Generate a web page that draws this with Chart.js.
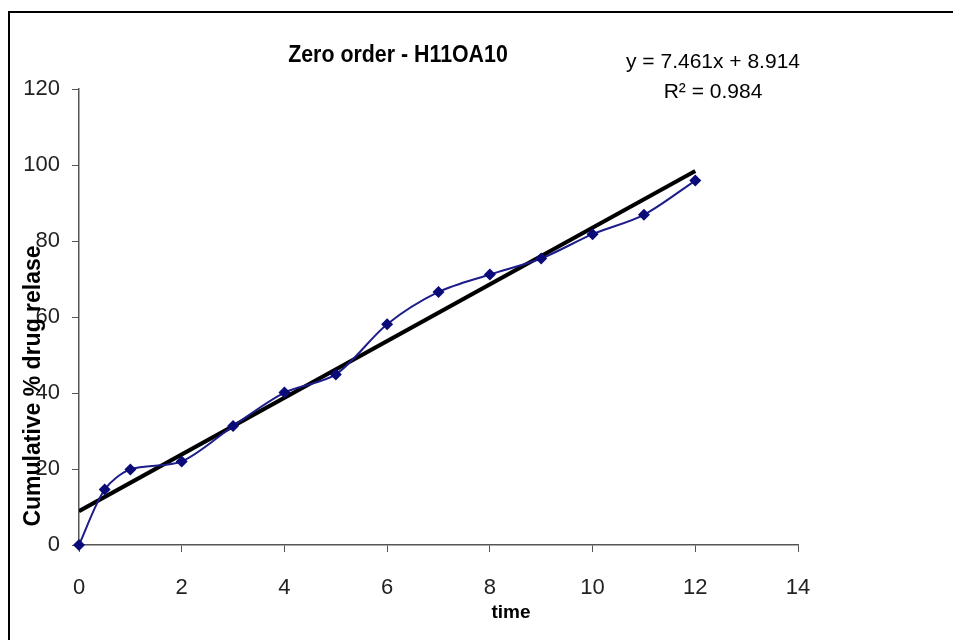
<!DOCTYPE html>
<html>
<head>
<meta charset="utf-8">
<script src="https://cdn.jsdelivr.net/npm/chart.js@4"></script>
<style>
  body { margin: 0; background: #fff; }
  .frame { position: absolute; left: 8px; top: 11px; width: 1000px; height: 700px; border: 2px solid #000; }
  #myChart { position: absolute; left: 0; top: 0; }
</style>
</head>
<body>
<div class="frame"></div>
<canvas id="myChart" width="953" height="640"></canvas>
<script>
// time (h) and cumulative % drug release
let times = [0, 0.5, 1, 2, 3, 4, 5, 6, 7, 8, 9, 10, 11, 12];
let release = [0, 14.6, 19.9, 22.0, 31.3, 40.1, 44.9, 58.1, 66.6, 71.2, 75.4, 81.8, 86.9, 95.9];
// linear trendline endpoints (y = 7.461x + 8.914)
let trendX = [0, 12];
let trendY = [8.914, 98.446];
let xTicks = [0, 2, 4, 6, 8, 10, 12, 14];
let yTicks = [0, 20, 40, 60, 80, 100, 120];

let font = "'Liberation Sans', Arial, sans-serif";

let textPlugin = {
  id: "texts",
  afterDraw(chart) {
    let c = chart.ctx;
    c.save();
    c.fillStyle = "#000";
    c.textAlign = "center";
    c.textBaseline = "alphabetic";
    // title is a condensed bold face in the original
    c.save();
    c.translate(398, 62);
    c.scale(0.89, 1);
    c.font = "bold 24px " + font;
    c.fillText("Zero order - H11OA10", 0, 0);
    c.restore();
    c.font = "21px " + font;
    c.fillText("y = 7.461x + 8.914", 713, 68);
    c.fillText("R² = 0.984", 713, 98);
    c.font = "bold 19px " + font;
    c.fillText("time", 511, 618);
    c.translate(40, 386);
    c.rotate(-Math.PI / 2);
    c.font = "bold 23px " + font;
    c.fillText("Cumulative % drug relase", 0, 0);
    c.restore();
  },
};

let ctx = document.getElementById("myChart").getContext("2d");
let myChart = new Chart(ctx, {
  type: "scatter",
  data: {
    datasets: [
      {
        label: "release",
        data: times.map((t, i) => ({ x: t, y: release[i] })),
        showLine: true,
        borderColor: "#1c1c8a",
        borderWidth: 2,
        backgroundColor: "#0a0a78",
        pointStyle: "rectRot",
        pointRadius: 6,
        pointBorderWidth: 0,
        tension: 0.3,
        clip: false,
        order: 1,
      },
      {
        label: "trend",
        data: trendX.map((t, i) => ({ x: t, y: trendY[i] })),
        showLine: true,
        borderColor: "#000",
        borderWidth: 4,
        pointRadius: 0,
        order: 2,
      },
    ],
  },
  options: {
    responsive: false,
    animation: false,
    layout: { padding: { top: 89, right: 155, left: 0, bottom: 0 } },
    plugins: {
      legend: { display: false },
      tooltip: { enabled: false },
    },
    scales: {
      x: {
        type: "linear",
        min: 0,
        max: 14,
        afterBuildTicks: (s) => { s.ticks = xTicks.map((v) => ({ value: v })); },
        afterFit: (s) => { s.height = 95; },
        grid: { drawOnChartArea: false, drawTicks: true, tickLength: 7, color: "#555" },
        border: { color: "#555", width: 1.5 },
        ticks: { color: "#222", padding: 23, font: { family: font, size: 22 } },
      },
      y: {
        type: "linear",
        min: 0,
        max: 120,
        afterBuildTicks: (s) => { s.ticks = yTicks.map((v) => ({ value: v })); },
        afterFit: (s) => { s.width = 79; },
        grid: { drawOnChartArea: false, drawTicks: true, tickLength: 7, color: "#555" },
        border: { color: "#555", width: 1.5 },
        ticks: { color: "#222", padding: 12, font: { family: font, size: 22 } },
      },
    },
  },
  plugins: [textPlugin],
});
</script>
</body>
</html>
